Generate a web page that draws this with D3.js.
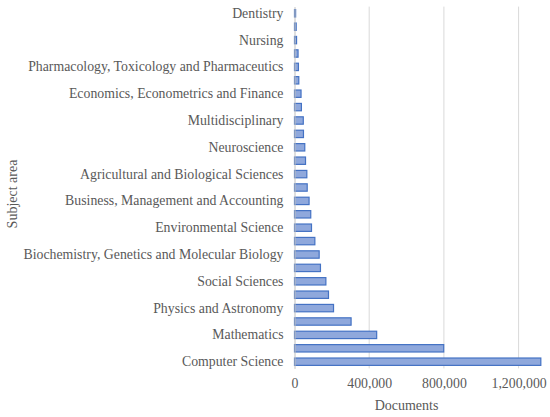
<!DOCTYPE html>
<html lang="en">
  <head>
    <meta charset="UTF-8" />
    <title>Documents by subject area</title>
    <style>
      body {
        margin: 0;
        background: #ffffff;
        font-family: "Liberation Serif", "Times New Roman", serif;
      }
      .axis text {
        fill: #595959;
        font-family: "Liberation Serif", "Times New Roman", serif;
        font-size: 13.8px;
      }
      .bar {
        fill: #8fa8dc;
        stroke: #4472c4;
        stroke-width: 1.2;
      }
      .grid line {
        stroke: #d9d9d9;
        stroke-width: 1;
      }
      .title {
        fill: #595959;
        font-size: 14px;
      }
    </style>
  </head>
  <body>
    <div id="chart"></div>
    <script src="https://d3js.org/d3.v7.min.js"></script>
    <script>
      // subject areas, top to bottom
      const categories = [
        "Dentistry",
        "Veterinary",
        "Nursing",
        "Immunology and Microbiology",
        "Pharmacology, Toxicology and Pharmaceutics",
        "Chemical Engineering",
        "Economics, Econometrics and Finance",
        "Health Professions",
        "Multidisciplinary",
        "Chemistry",
        "Neuroscience",
        "Psychology",
        "Agricultural and Biological Sciences",
        "Arts and Humanities",
        "Business, Management and Accounting",
        "Energy",
        "Environmental Science",
        "Earth and Planetary Sciences",
        "Biochemistry, Genetics and Molecular Biology",
        "Materials Science",
        "Social Sciences",
        "Decision Sciences",
        "Physics and Astronomy",
        "Medicine",
        "Mathematics",
        "Engineering",
        "Computer Science",
      ];
      const documents = [
        6000, 9000, 11000, 19000, 21000, 23000, 35000, 37000, 47000, 48000,
        55000, 59000, 66000, 68000, 78000, 87000, 91000, 109000, 132000,
        139000, 168000, 182000, 209000, 303000, 440000, 799000, 1319000,
      ];
      // only every other subject area carries a label
      const labelled = categories.filter((d, i) => i % 2 === 0);
      const xTicks = [0, 400000, 800000, 1200000];

      const width = 550;
      const height = 417;
      const svg = d3
        .select("#chart")
        .append("svg")
        .attr("width", width)
        .attr("height", height);

      const x = d3.scaleLinear().domain([0, 1200000]).range([294.5, 518.6]);
      const y = d3
        .scaleBand()
        .domain(categories)
        .range([6.6, 368.4])
        .paddingInner(0.45)
        .paddingOuter(0.225);

      // vertical gridlines
      svg
        .append("g")
        .attr("class", "grid")
        .selectAll("line")
        .data(xTicks.slice(1))
        .enter()
        .append("line")
        .attr("x1", (d) => x(d))
        .attr("x2", (d) => x(d))
        .attr("y1", 6.6)
        .attr("y2", 368.4);

      svg
        .append("g")
        .selectAll("rect")
        .data(documents)
        .enter()
        .append("rect")
        .attr("class", "bar")
        .attr("x", x(0))
        .attr("y", (d, i) => y(categories[i]))
        .attr("width", (d) => x(d) - x(0))
        .attr("height", y.bandwidth());

      // y axis
      const yAxis = svg
        .append("g")
        .attr("class", "axis")
        .attr("transform", `translate(${x(0)},0)`)
        .call(d3.axisLeft(y).tickValues(labelled).tickSize(0).tickPadding(11));
      yAxis.select(".domain").attr("stroke", "#bfbfbf");

      // x axis
      const xAxis = svg
        .append("g")
        .attr("class", "axis")
        .attr("transform", `translate(0,368.4)`)
        .call(
          d3
            .axisBottom(x)
            .tickValues(xTicks)
            .tickSize(0)
            .tickPadding(10)
            .tickFormat(d3.format(","))
        );
      xAxis.select(".domain").remove();

      svg
        .append("text")
        .attr("class", "title")
        .attr("x", x(600000))
        .attr("y", 410)
        .attr("text-anchor", "middle")
        .text("Documents");

      svg
        .append("text")
        .attr("class", "title")
        .attr("transform", "translate(17,194) rotate(-90)")
        .attr("text-anchor", "middle")
        .text("Subject area");
    </script>
  </body>
</html>
